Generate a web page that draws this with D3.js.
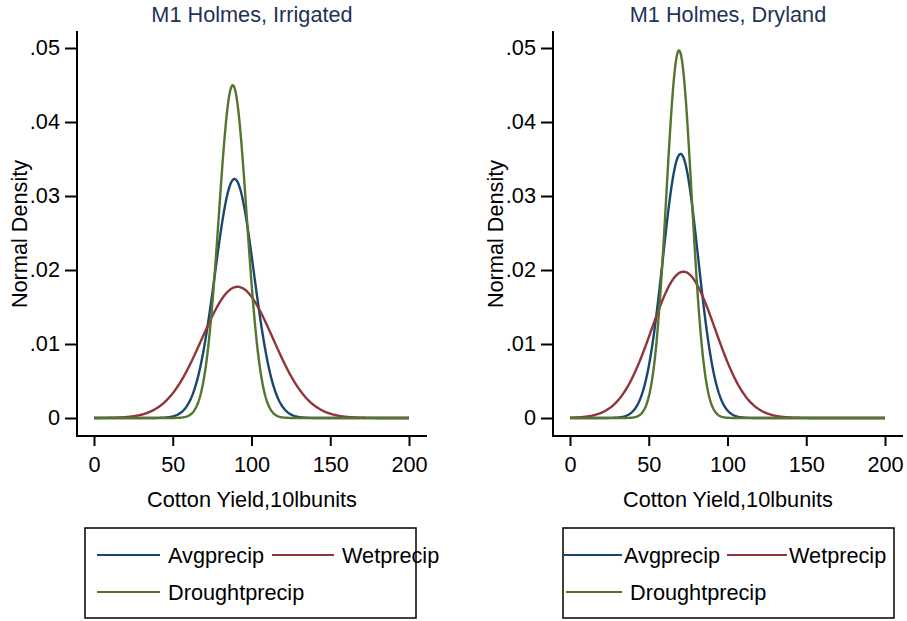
<!DOCTYPE html>
<html>
<head>
<meta charset="utf-8">
<script src="https://cdn.jsdelivr.net/npm/d3@7/dist/d3.min.js"></script>
<style>
  html, body { margin: 0; padding: 0; background: #fff; }
  svg { display: block; font-family: "Liberation Sans", Arial, sans-serif; }
</style>
</head>
<body>
<svg id="chart" width="907" height="621"></svg>
<script>
// Panels and the precipitation scenarios drawn in each
const panelTitles = ["M1 Holmes, Irrigated", "M1 Holmes, Dryland"];
const seriesNames = ["Avgprecip", "Wetprecip", "Droughtprecip"];
const seriesColors = ["#1a476f", "#90353b", "#55752f"];

// Fitted normal parameters (cotton yield, 10 lb units) per panel
const meansIrrigated = [89.2, 91.1, 88.1];
const sdsIrrigated   = [12.35, 22.5, 8.87];
const meansDryland   = [70.2, 72.0, 69.2];
const sdsDryland     = [11.18, 20.18, 8.03];

// Axis ticks
const xTicks = [0, 50, 100, 150, 200];
const yTicks = [0, 0.01, 0.02, 0.03, 0.04, 0.05];
const yTickLabels = ["0", ".01", ".02", ".03", ".04", ".05"];
const xLabel = "Cotton Yield,10lbunits";
const yLabel = "Normal Density";

const svg = d3.select("#chart");
const FS = 21.7;

const panels = [
  { title: panelTitles[0], means: meansIrrigated, sds: sdsIrrigated, ox: 77,
    legend: { x: 85, lines: [[97, 160, 168], [272, 334, 342], [97, 160, 168]] } },
  { title: panelTitles[1], means: meansDryland, sds: sdsDryland, ox: 553,
    legend: { x: 563, lines: [[564, 622, 624], [727, 787, 789], [566, 622, 630]] } }
];

const normalPdf = (x, m, s) => Math.exp(-0.5 * ((x - m) / s) ** 2) / (s * Math.sqrt(2 * Math.PI));
const grid = d3.range(0, 200.001, 0.5);

const y = d3.scaleLinear().domain([0, 0.05]).range([418, 48]);
const plotTop = 31, plotBottom = 436;

panels.forEach(p => {
  const x = d3.scaleLinear().domain([0, 200]).range([p.ox + 17, p.ox + 332]);
  const g = svg.append("g");

  // Title
  g.append("text")
    .attr("x", p.ox + 175).attr("y", 22)
    .attr("text-anchor", "middle")
    .attr("font-size", FS).attr("fill", "#1f3257")
    .text(p.title);

  // Y axis
  const yAxis = g.append("g")
    .attr("transform", `translate(${p.ox},0)`)
    .call(d3.axisLeft(y).tickValues(yTicks).tickFormat((d, i) => yTickLabels[i])
      .tickSize(12).tickPadding(5));
  yAxis.select(".domain").remove();
  yAxis.selectAll(".tick line").attr("stroke", "#000").attr("stroke-width", 2);
  yAxis.selectAll(".tick text").attr("font-size", FS).attr("fill", "#000")
    .attr("font-family", "Liberation Sans, Arial, sans-serif");
  g.append("line")
    .attr("x1", p.ox).attr("x2", p.ox).attr("y1", plotTop).attr("y2", plotBottom + 1)
    .attr("stroke", "#000").attr("stroke-width", 2);

  // X axis
  const xAxis = g.append("g")
    .attr("transform", `translate(0,${plotBottom})`)
    .call(d3.axisBottom(x).tickValues(xTicks).tickFormat(d3.format("d"))
      .tickSize(10).tickPadding(11));
  xAxis.select(".domain").remove();
  xAxis.selectAll(".tick line").attr("stroke", "#000").attr("stroke-width", 2);
  xAxis.selectAll(".tick text").attr("font-size", FS).attr("fill", "#000")
    .attr("font-family", "Liberation Sans, Arial, sans-serif");
  g.append("line")
    .attr("x1", p.ox - 1).attr("x2", p.ox + 350).attr("y1", plotBottom).attr("y2", plotBottom)
    .attr("stroke", "#000").attr("stroke-width", 2);

  // Axis titles
  g.append("text")
    .attr("x", p.ox + 175).attr("y", 507)
    .attr("text-anchor", "middle").attr("font-size", FS).attr("fill", "#000")
    .text(xLabel);
  g.append("text")
    .attr("transform", `translate(${p.ox - 50},234) rotate(-90)`)
    .attr("text-anchor", "middle").attr("font-size", FS).attr("fill", "#000")
    .text(yLabel);

  // Density curves
  const line = d3.line().x(d => x(d[0])).y(d => y(d[1])).curve(d3.curveLinear);
  seriesNames.forEach((name, i) => {
    const pts = grid.map(v => [v, normalPdf(v, p.means[i], p.sds[i])]);
    g.append("path")
      .datum(pts)
      .attr("d", line)
      .attr("fill", "none")
      .attr("stroke", seriesColors[i])
      .attr("stroke-width", 2.4)
      .attr("stroke-linejoin", "round");
  });

  // Legend
  const lg = g.append("g");
  lg.append("rect")
    .attr("x", p.legend.x).attr("y", 528).attr("width", 331).attr("height", 90)
    .attr("fill", "none").attr("stroke", "#000").attr("stroke-width", 1.5);
  const rows = [555, 555, 592];
  seriesNames.forEach((name, i) => {
    const [l0, l1, tx] = p.legend.lines[i];
    lg.append("line")
      .attr("x1", l0).attr("x2", l1).attr("y1", rows[i]).attr("y2", rows[i])
      .attr("stroke", seriesColors[i]).attr("stroke-width", 2);
    lg.append("text")
      .attr("x", tx).attr("y", rows[i] + 7.5)
      .attr("font-size", FS).attr("fill", "#000")
      .text(name);
  });
});
</script>
</body>
</html>
